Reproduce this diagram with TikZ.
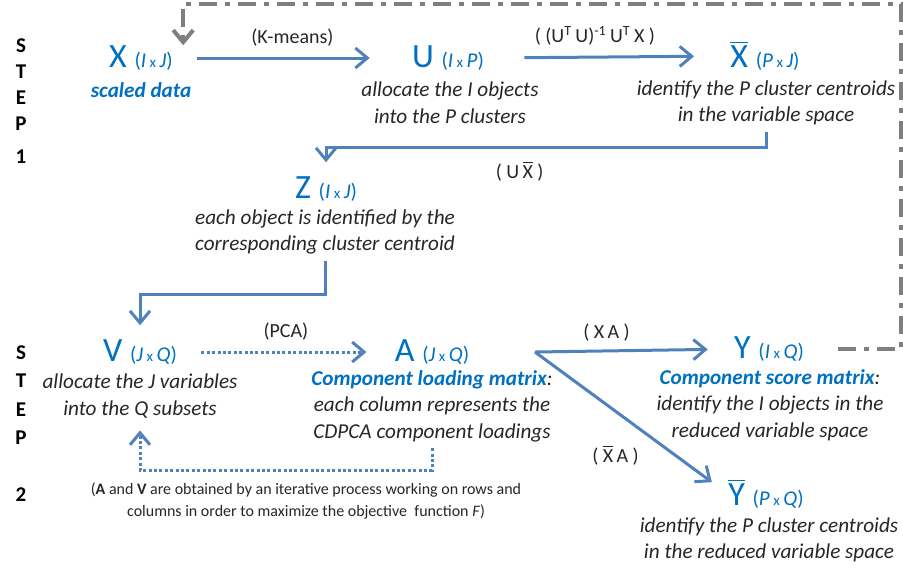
\documentclass[tikz,border=0pt]{standalone}
\usepackage{fontspec}
\setmainfont{Carlito}
\usetikzlibrary{positioning, arrows.meta}
\definecolor{matblue}{HTML}{0070C0}
\definecolor{arrblue}{HTML}{4F81BD}
\definecolor{loopgray}{HTML}{7F7F7F}
\definecolor{txtgray}{HTML}{262626}
\newcommand{\dimof}[2]{{\fontsize{10.5}{12}\selectfont(\textit{#1}\,{\fontsize{7.5}{8}\selectfont x}\,\textit{#2})}}
\newcommand{\barred}[1]{$\overline{\mbox{#1}}$}
\newcommand{\keyword}[1]{\textcolor{matblue}{\bfseries #1}}

\begin{document}
\begin{tikzpicture}[
    x=0.5pt, y=-0.5pt,
    mat/.style={text=matblue, font=\fontsize{17}{20}\selectfont, inner sep=0pt},
    desc/.style={text=txtgray, font=\fontsize{10.6}{13.3}\selectfont\itshape, align=center, inner sep=0pt},
    lbl/.style={text=txtgray, font=\fontsize{10}{12}\selectfont, inner sep=1pt},
    note/.style={text=txtgray, font=\fontsize{8}{11}\selectfont, align=center, inner sep=0pt},
    steplbl/.style={font=\fontsize{10.5}{13}\selectfont\bfseries, align=center, inner sep=0pt},
    arr/.style={-{Straight Barb[length=6pt,width=10pt]}, line width=1.5pt, draw=arrblue},
    arrDotted/.style={arr, dash pattern=on 1.5pt off 1.2pt},
    arrBack/.style={-{Straight Barb[length=6pt,width=10pt]}, line width=2pt, draw=loopgray,
      dash pattern=on 9pt off 4pt on 2.5pt off 4pt}
  ]
  \useasboundingbox (0,0) rectangle (903,570);
  % Step labels
  \node[steplbl] (st1) at (21,85) {S\\T\\E\\P};
  \node[steplbl] (n1) at (21,157) {1};
  \node[steplbl, font=\fontsize{10.5}{14.3}\selectfont\bfseries] (st2) at (21,395) {S\\T\\E\\P};
  \node[steplbl] (n2) at (21,495) {2};
  % Step 1: clustering of objects
  \node[mat] (X) at (141,58) {X \dimof{I}{J}};
  \node[desc] (Xd) at (141,90) {\keyword{scaled data}};
  \node[mat] (U) at (448,58) {U \dimof{I}{P}};
  \node[desc] (Ud) at (450,103) {allocate the I objects\\into the P clusters};
  \node[mat] (Xb) at (765,56) {\barred{X} \dimof{P}{J}};
  \node[desc] (Xbd) at (766,103) {identify the P cluster centroids\\in the variable space};
  \node[mat] (Z) at (326,189) {Z \dimof{I}{J}};
  \node[desc] (Zd) at (325,232) {each object is identified by the\\corresponding cluster centroid};
  % Step 2: clustering of variables
  \node[mat] (V) at (140,352) {V \dimof{J}{Q}};
  \node[desc] (Vd) at (140,396) {allocate the J variables\\into the Q subsets};
  \node[mat] (A) at (432,352) {A \dimof{J}{Q}};
  \node[desc] (Ad) at (432,406) {\keyword{Component loading matrix}:\\each column represents the\\CDPCA component loadings};
  \node[mat] (Y) at (769,349) {Y \dimof{I}{Q}};
  \node[desc] (Yd) at (770,405) {\keyword{Component score matrix}:\\identify the I objects in the\\reduced variable space};
  \node[mat] (Yb) at (766,494) {\barred{Y} \dimof{P}{Q}};
  \node[desc] (Ybd) at (769,540) {identify the P cluster centroids\\in the reduced variable space};
  \node[note] (nt) at (306,501) {(\textbf{A} and \textbf{V} are obtained by an iterative process working on rows and\\columns in order to maximize the objective\ \ function \textit{F})};
  \coordinate (fork) at (535,352);
  \coordinate (corner) at (901,4);
  % Step 1 flow
  \draw[arr, shorten <=12pt, shorten >=21pt] (X.east) -- node[lbl, above=4pt]{(K-means)} (U.west);
  \draw[arr, shorten <=20pt, shorten >=18pt] (U.east) -- node[lbl, above=4pt, pos=0.45]{( (U\textsuperscript{T}\,U)\textsuperscript{-1}\,U\textsuperscript{T}\,X )} (Xb.west);
  \draw[arr, shorten <=3pt, shorten >=7pt] (Xbd.south) -- ++(0,22) -| node[lbl, below=5pt, pos=0.28]{( U\,\barred{X} )} (Z.north);
  \draw[arr, shorten <=3pt, shorten >=7pt] (Zd.south) -- ++(0,40) -| (V.north);
  % Step 2 flow
  \draw[arrDotted, shorten <=12pt, shorten >=14pt] (V.east) -- node[lbl, above=4pt]{(PCA)} (A.west);
  \draw[arrDotted, shorten <=3pt, shorten >=6pt] (Ad.south) -- ++(0,28) -| (Vd.south);
  \draw[arr, shorten >=13pt] (fork) -- node[lbl, above=3pt, pos=0.36]{( X\,A )} (Y.west);
  \draw[arr, shorten >=10pt] (fork) -- node[lbl, pos=0.5, xshift=-8pt, yshift=-16pt]{( \barred{X}\,A )} (Yb.west);
  % Back to step 1
  \draw[arrBack, shorten <=17pt] (Y.east) -| (corner) -| ([xshift=5pt]X.north east);
\end{tikzpicture}
\end{document}
